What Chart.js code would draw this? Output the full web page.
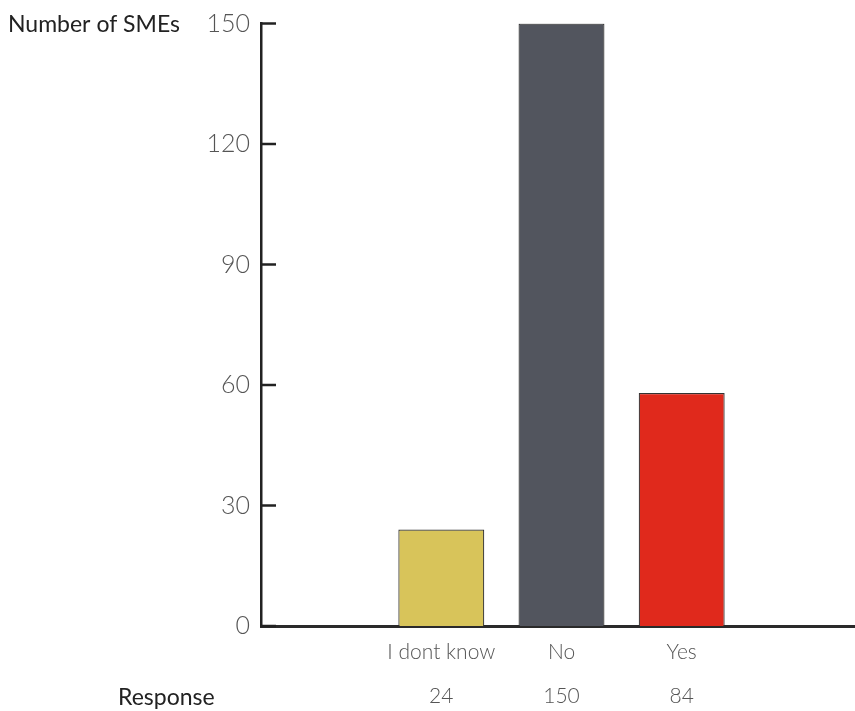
<!DOCTYPE html>
<html>
<head>
<meta charset="utf-8">
<script src="https://cdn.jsdelivr.net/npm/chart.js@4/dist/chart.umd.min.js"></script>
<style>
  html, body { margin: 0; padding: 0; background: #fff; overflow: hidden; }
  #chart { display: block; }
</style>
</head>
<body>
<canvas id="chart" width="862" height="711"></canvas>
<script>
// data (empty slots at both ends of the axis)
const categories = ['', 'I dont know', 'No', 'Yes', ''];
const smeCounts = [null, 24, 150, 58, null];
const responseTotals = ['', '24', '150', '84', ''];
const barColors = ['#d8c45a', '#d8c45a', '#52555e', '#e0291c', '#e0291c'];
const yTicks = [0, 30, 60, 90, 120, 150];

const tickFont = { family: 'Lato, "Open Sans", sans-serif', size: 25, weight: '300', lineHeight: 1 };
const labelFont = { family: 'Lato, "Open Sans", sans-serif', size: 21, weight: '300', lineHeight: 2.1 };

// inward tick marks + the two side captions
const extras = {
    id: 'extras',
    afterDraw(chart) {
        const ctx = chart.ctx;
        const y = chart.scales.y;
        const left = chart.chartArea.left;
        ctx.save();
        ctx.strokeStyle = '#222';
        ctx.lineWidth = 2.5;
        y.ticks.forEach((t, i) => {
            const py = y.getPixelForTick(i);
            ctx.beginPath();
            ctx.moveTo(left, py);
            ctx.lineTo(left + 15, py);
            ctx.stroke();
        });
        ctx.fillStyle = '#222';
        ctx.font = '23px Lato, "Open Sans", sans-serif';
        ctx.textBaseline = 'middle';
        ctx.textAlign = 'left';
        ctx.fillText('Number of SMEs', 8, 25);
        ctx.fillText('Response', 118, 698);
        ctx.restore();
    }
};

new Chart(document.getElementById('chart'), {
    type: 'bar',
    data: {
        labels: categories.map((c, i) => [c, responseTotals[i]]),
        datasets: [{
            data: smeCounts,
            backgroundColor: barColors,
            borderColor: '#333',
            borderWidth: 1.2,
            barPercentage: 0.715,
            categoryPercentage: 1
        }]
    },
    options: {
        responsive: false,
        animation: false,
        layout: { padding: { top: 10, right: 0, left: 0, bottom: 0 } },
        plugins: { legend: { display: false }, tooltip: { enabled: false } },
        scales: {
            x: {
                grid: { display: false, drawTicks: false },
                border: { display: true, color: '#2a2a2a', width: 3 },
                ticks: {
                    color: '#555',
                    font: labelFont,
                    padding: 4,
                    maxRotation: 0,
                    autoSkip: false
                },
                afterFit(scale) { scale.height = 85; }
            },
            y: {
                min: 0,
                max: 150,
                afterBuildTicks(scale) { scale.ticks = yTicks.map(v => ({ value: v })); },
                grid: { display: false, drawTicks: false },
                border: { display: true, color: '#222', width: 2.5 },
                ticks: { color: '#555', font: tickFont, padding: 11 },
                afterFit(scale) { scale.width = 261; }
            }
        }
    },
    plugins: [extras]
});
</script>
</body>
</html>
